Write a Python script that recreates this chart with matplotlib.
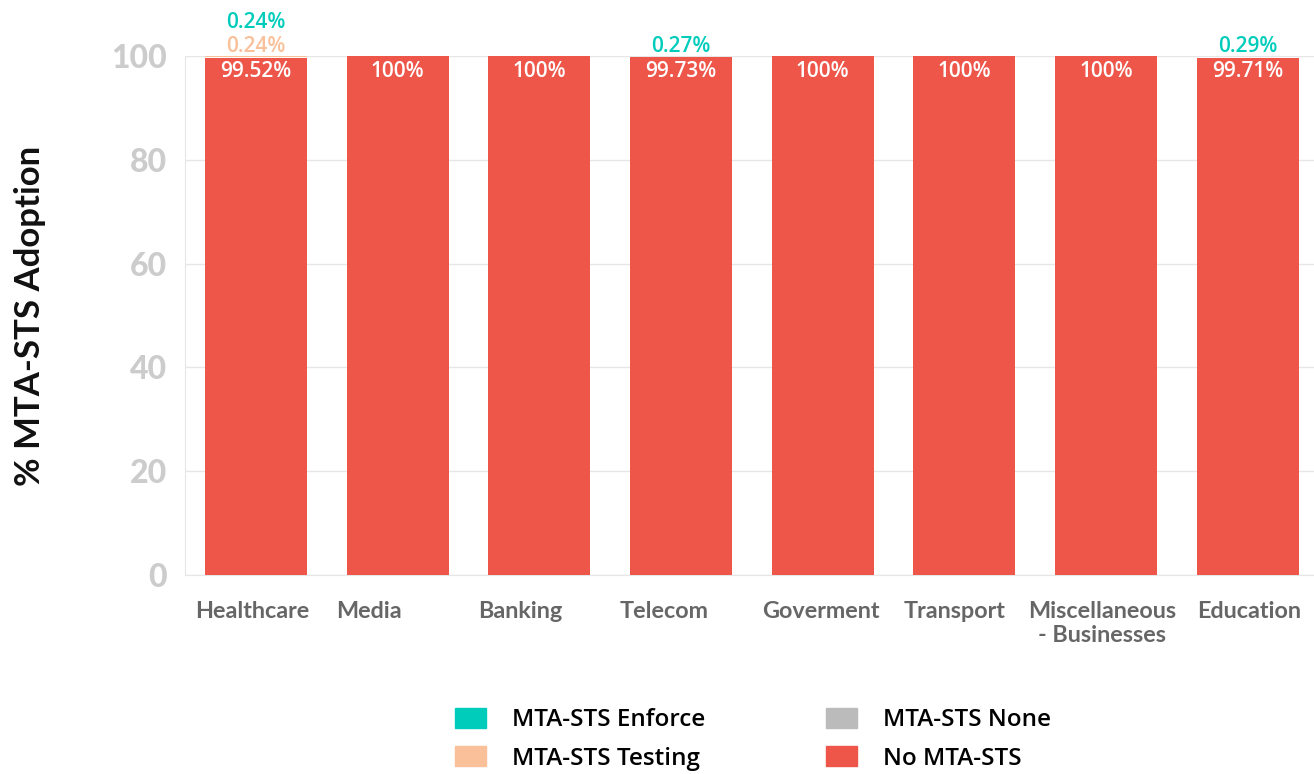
import matplotlib.pyplot as plt
from matplotlib.patches import Patch

categories = ["Healthcare", "Media", "Banking", "Telecom", "Goverment",
              "Transport", "Miscellaneous\n- Businesses", "Education"]
no_sts = [99.52, 100, 100, 99.73, 100, 100, 100, 99.71]
sts_none = [0, 0, 0, 0, 0, 0, 0, 0]
sts_testing = [0.24, 0, 0, 0, 0, 0, 0, 0]
sts_enforce = [0.24, 0, 0, 0.27, 0, 0, 0, 0.29]

C_ENFORCE = "#00ccbb"
C_TESTING = "#f9c09a"
C_NONE = "#bbbbbb"
C_NO = "#ee564a"

fig = plt.figure(figsize=(13.14, 7.74), dpi=100)
ax = fig.add_axes([185 / 1314, 1 - 575 / 774, 1 - 185 / 1314, (575 - 56) / 774])

x = list(range(len(categories)))
w = 0.72
ax.bar(x, no_sts, w, color=C_NO, zorder=3)
b1 = [a + b for a, b in zip(no_sts, sts_none)]
ax.bar(x, sts_none, w, bottom=b1, color=C_NONE, zorder=3)
b2 = [a + b for a, b in zip(b1, sts_testing)]
ax.bar(x, sts_testing, w, bottom=b2, color=C_TESTING, zorder=3)
b3 = [a + b for a, b in zip(b2, sts_enforce)]
ax.bar(x, sts_enforce, w, bottom=b3, color=C_ENFORCE, zorder=3)

lbl_font = dict(family="Open Sans", fontsize=15, fontweight="semibold")

# value labels: red segment inside, small segments stacked above the bar
for i in x:
    ax.text(i, 100 - 2.9, f"{no_sts[i]:g}%", ha="center", va="center",
            color="white", zorder=4, **lbl_font)
    y = 100 + 1.9
    for vals, col in ((sts_testing, C_TESTING), (sts_enforce, C_ENFORCE)):
        if vals[i] > 0:
            ax.text(i, y, f"{vals[i]:g}%", ha="center", va="center",
                    color=col, clip_on=False, **lbl_font)
            y += 4.6

ax.set_xlim(-0.5, -0.5 + (1314 - 185) / 141.7)
ax.set_ylim(0, 100)
ax.set_yticks(range(0, 101, 20))
ax.set_yticklabels([str(v) for v in range(0, 101, 20)], family="Lato",
                   fontsize=23, fontweight="black", color="#cccccc")
ax.tick_params(axis="y", length=0, pad=13)
ax.tick_params(axis="x", length=0)
ax.set_xticks([])
ax.grid(axis="y", color="#e6e6e6", lw=1, zorder=0)
for s in ("top", "right"):
    ax.spines[s].set_visible(False)
ax.spines["left"].set_color("#e6e6e6")
ax.spines["bottom"].set_color("#e6e6e6")

# category labels
xl_font = dict(family="Lato", fontsize=16.8, fontweight="bold", color="#666666")
for i, name in enumerate(categories):
    if "\n" in name:
        ax.text(i - 0.03, -5.0, name, ha="center", va="top",
                multialignment="center", linespacing=1.15, **xl_font)
    elif name == "Education":
        ax.text(i - 0.36, -5.0, name, ha="left", va="top", **xl_font)
    else:
        ax.text(i - 0.43, -5.0, name, ha="left", va="top", **xl_font)

ax.set_ylabel("% MTA-STS Adoption", family="Lato", fontsize=25,
              fontweight="bold", color="#111111")
ax.yaxis.set_label_coords(-0.123, 0.5)

handles = [Patch(color=C_ENFORCE, label="MTA-STS Enforce"),
           Patch(color=C_TESTING, label="MTA-STS Testing"),
           Patch(color=C_NONE, label="MTA-STS None"),
           Patch(color=C_NO, label="No MTA-STS")]
fig.legend(handles=handles, ncol=2, loc="center", bbox_to_anchor=(0.573, 0.045),
           frameon=False, prop=dict(family="Open Sans", size=17.5, weight="semibold"),
           handlelength=1.28, handleheight=0.9, handletextpad=1.05,
           columnspacing=5.0, labelspacing=0.58)

fig.savefig("out.png", dpi=100)
